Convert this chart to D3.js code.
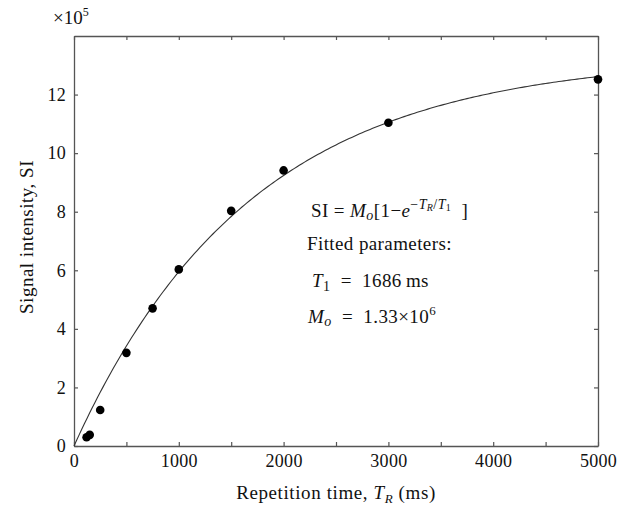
<!DOCTYPE html>
<html>
<head>
<meta charset="utf-8">
<script src="https://cdn.jsdelivr.net/npm/d3@7"></script>
<style>
  body { margin: 0; background: #fff; }
</style>
</head>
<body>
<div id="chart"></div>
<script>
// measured points (repetition time ms, SI x 1e5)
const trValues = [120, 150, 250, 500, 750, 1000, 1500, 2000, 3000, 5000]
const siValues = [0.30, 0.38, 1.23, 3.18, 4.70, 6.03, 8.03, 9.41, 11.04, 12.52]

// fitted parameters shown in the annotation
const fitT1 = 1686
const fitM0 = 13.3 // 1.33e6 in units of 1e5

const xTicks = [0, 500, 1000, 1500, 2000, 2500, 3000, 3500, 4000, 4500, 5000]
const yTicks = [0, 2, 4, 6, 8, 10, 12]

const width = 633
const height = 508
const margin = { top: 36, right: 35, bottom: 62, left: 74 }
const innerW = width - margin.left - margin.right
const innerH = height - margin.top - margin.bottom
const serif = 'Liberation Serif'
const nb = '\u00a0'

const svg = d3.select('#chart').append('svg')
  .attr('width', width)
  .attr('height', height)
  .attr('font-family', serif)
  .attr('fill', '#111')

const g = svg.append('g')
  .attr('transform', `translate(${margin.left},${margin.top})`)

const x = d3.scaleLinear().domain([0, 5000]).range([0, innerW])
const y = d3.scaleLinear().domain([0, 14]).range([innerH, 0])

const axisColor = '#555'
const tickLen = 4
const xLabel = d => (d % 1000 === 0 ? d : '')

function styleAxis (sel) {
  sel.attr('font-family', serif).attr('font-size', 18)
  sel.select('.domain').attr('stroke', axisColor).attr('stroke-width', 1.3)
  sel.selectAll('.tick line').attr('stroke', axisColor).attr('stroke-width', 1.2)
  sel.selectAll('.tick text').attr('fill', '#111').attr('letter-spacing', 0.3)
}

// bottom axis
g.append('g')
  .attr('transform', `translate(0,${innerH})`)
  .call(d3.axisBottom(x).tickValues(xTicks).tickFormat(xLabel)
    .tickSizeInner(-tickLen).tickSizeOuter(0).tickPadding(8))
  .call(styleAxis)

// top axis (ticks only)
g.append('g')
  .call(d3.axisTop(x).tickValues(xTicks).tickFormat('')
    .tickSizeInner(-tickLen).tickSizeOuter(0))
  .call(styleAxis)

// left axis
g.append('g')
  .call(d3.axisLeft(y).tickValues(yTicks).tickFormat(d3.format('d'))
    .tickSizeInner(-tickLen).tickSizeOuter(0).tickPadding(8))
  .call(styleAxis)

// right axis (ticks only)
g.append('g')
  .attr('transform', `translate(${innerW},0)`)
  .call(d3.axisRight(y).tickValues(yTicks).tickFormat('')
    .tickSizeInner(-tickLen).tickSizeOuter(0))
  .call(styleAxis)

// fitted curve SI = M0 (1 - exp(-TR/T1))
const fitX = d3.range(0, 5001, 25)
const line = d3.line()
  .x(d => x(d))
  .y(d => y(fitM0 * (1 - Math.exp(-d / fitT1))))
g.append('path')
  .datum(fitX)
  .attr('fill', 'none')
  .attr('stroke', '#333')
  .attr('stroke-width', 1.1)
  .attr('d', line)

// data points
g.selectAll('circle.pt')
  .data(trValues)
  .join('circle')
  .attr('class', 'pt')
  .attr('cx', d => x(d))
  .attr('cy', (d, i) => y(siValues[i]))
  .attr('r', 4.3)
  .attr('fill', '#000')

// scale factor label
const sf = svg.append('text')
  .attr('x', 53)
  .attr('y', 24)
  .attr('font-size', 19)
sf.append('tspan').text('×10')
sf.append('tspan').attr('dy', -8).attr('font-size', 12).text('5')

// axis titles
const xt = svg.append('text')
  .attr('x', margin.left + innerW / 2)
  .attr('y', 499)
  .attr('text-anchor', 'middle')
  .attr('font-size', 19)
  .attr('letter-spacing', 0.6)
xt.append('tspan').text('Repetition time, ')
xt.append('tspan').attr('font-style', 'italic').text('T')
xt.append('tspan').attr('dy', 4).attr('font-size', 13).attr('font-style', 'italic').text('R')
xt.append('tspan').attr('dy', -4).text(' (ms)')

svg.append('text')
  .attr('transform', `translate(33,${margin.top + innerH / 2 - 4}) rotate(-90)`)
  .attr('text-anchor', 'middle')
  .attr('font-size', 19)
  .attr('letter-spacing', 0.5)
  .text('Signal intensity, SI')

// annotation
const ann = svg.append('g').attr('font-size', 19).attr('letter-spacing', 0.4)

const l1 = ann.append('text').attr('x', 311).attr('y', 217)
l1.append('tspan').text('SI = ')
l1.append('tspan').attr('font-style', 'italic').text('M')
l1.append('tspan').attr('dy', 3).attr('font-size', 14).attr('font-style', 'italic').text('o')
l1.append('tspan').attr('dy', -3).text('[1−')
l1.append('tspan').attr('font-style', 'italic').text('e')
l1.append('tspan').attr('dy', -8).attr('font-size', 14).text('−')
l1.append('tspan').attr('font-size', 14).attr('font-style', 'italic').text('T')
l1.append('tspan').attr('dy', 2).attr('font-size', 10).attr('font-style', 'italic').text('R')
l1.append('tspan').attr('dy', -2).attr('font-size', 14).text('/')
l1.append('tspan').attr('font-size', 14).attr('font-style', 'italic').text('T')
l1.append('tspan').attr('dy', 2).attr('font-size', 10).text('1')
l1.append('tspan').attr('dy', 6).text(nb + nb + ']')

ann.append('text').attr('x', 307).attr('y', 250).text('Fitted parameters:')

const l3 = ann.append('text').attr('x', 312).attr('y', 287)
l3.append('tspan').attr('font-style', 'italic').text('T')
l3.append('tspan').attr('dy', 4).attr('font-size', 14).text('1')
l3.append('tspan').attr('dy', -4).text(nb + nb + '=' + nb + nb + '1686\u2009ms')

const l4 = ann.append('text').attr('x', 308).attr('y', 323)
l4.append('tspan').attr('font-style', 'italic').text('M')
l4.append('tspan').attr('dy', 3).attr('font-size', 14).attr('font-style', 'italic').text('o')
l4.append('tspan').attr('dy', -3).text(nb + nb + '=' + nb + nb + '1.33×10')
l4.append('tspan').attr('dy', -8).attr('font-size', 13).text('6')
</script>
</body>
</html>
